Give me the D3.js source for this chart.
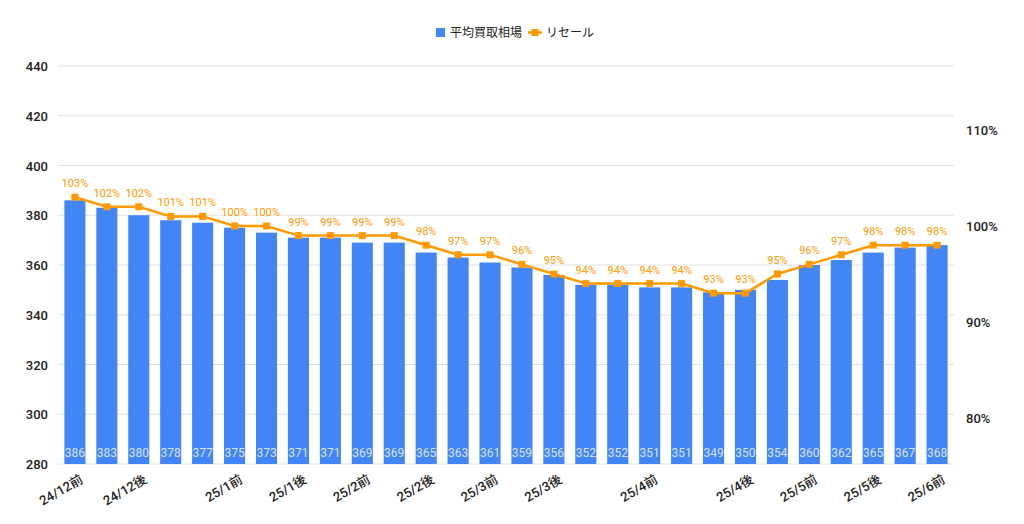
<!DOCTYPE html>
<html>
<head>
<meta charset="utf-8">
<script src="https://d3js.org/d3.v7.min.js"></script>
<style>
  body { margin: 0; background: #fff; font-family: Roboto, "Noto Sans CJK JP", sans-serif; }
  .grid line { stroke: #e0e0e0; }
  .axis text { font-size: 13px; fill: #222; font-weight: 500; }
</style>
</head>
<body>
<script>
const categories = ["24/12前","","24/12後","","","25/1前","","25/1後","","25/2前","","25/2後","","25/3前","","25/3後","","","25/4前","","","25/4後","","25/5前","","25/5後","","25/6前"];
const buyPrice = [386,383,380,378,377,375,373,371,371,369,369,365,363,361,359,356,352,352,351,351,349,350,354,360,362,365,367,368];
const resale = [103,102,102,101,101,100,100,99,99,99,99,98,97,97,96,95,94,94,94,94,93,93,95,96,97,98,98,98];
const leftTicks = [280,300,320,340,360,380,400,420,440];
const rightTicks = [80,90,100,110];

const W = 1024, H = 524;
const m = {top: 66, bottom: 60, left: 58, right: 70};
const svg = d3.select("body").append("svg").attr("width", W).attr("height", H);

const idx = d3.range(categories.length);
const x = d3.scaleBand().domain(idx).range([m.left, W - m.right]).paddingInner(0.34).paddingOuter(0.2);
const y = d3.scaleLinear().domain([280, 440]).range([H - m.bottom, m.top]);
const y2 = d3.scaleLinear().domain([75.2, 116.67]).range([H - m.bottom, m.top]);

svg.append("g").attr("class", "grid")
  .selectAll("line").data(leftTicks).join("line")
  .attr("x1", m.left).attr("x2", W - m.right)
  .attr("y1", d => y(d)).attr("y2", d => y(d));

svg.append("g").attr("class", "axis")
  .selectAll("text").data(leftTicks).join("text")
  .attr("x", 48).attr("y", d => y(d) + 5).attr("text-anchor", "end").text(d => d);

svg.append("g").attr("class", "axis")
  .selectAll("text").data(rightTicks).join("text")
  .attr("x", 966).attr("y", d => y2(d) + 5).text(d => d + "%");

svg.append("g").selectAll("rect").data(buyPrice).join("rect")
  .attr("x", (d, i) => x(i)).attr("width", x.bandwidth())
  .attr("y", d => y(d)).attr("height", d => y(280) - y(d))
  .attr("fill", "#4285f4");

svg.append("g").selectAll("text").data(buyPrice).join("text")
  .attr("x", (d, i) => x(i) + x.bandwidth() / 2).attr("y", y(280) - 7)
  .attr("text-anchor", "middle").attr("font-size", 12).attr("fill", "#d6e4fc")
  .text(d => d);

const line = d3.line().x((d, i) => x(i) + x.bandwidth() / 2).y(d => y2(d));
svg.append("path").datum(resale).attr("d", line)
  .attr("fill", "none").attr("stroke", "#ff9900").attr("stroke-width", 2.5);

svg.append("g").selectAll("rect").data(resale).join("rect")
  .attr("x", (d, i) => x(i) + x.bandwidth() / 2 - 3.5).attr("y", d => y2(d) - 3.5)
  .attr("width", 7).attr("height", 7).attr("fill", "#ff9900");

svg.append("g").selectAll("text").data(resale).join("text")
  .attr("x", (d, i) => x(i) + x.bandwidth() / 2).attr("y", d => y2(d) - 10)
  .attr("text-anchor", "middle").attr("font-size", 11).attr("fill", "#ff9900")
  .text(d => d + "%");

svg.append("g").attr("class", "axis")
  .selectAll("text").data(categories).join("text")
  .attr("transform", (d, i) => `translate(${x(i) + x.bandwidth() / 2 + 9},${y(280) + 18}) rotate(-30)`)
  .attr("text-anchor", "end").text(d => d);

// legend
const lg = svg.append("g").attr("font-size", 12).attr("fill", "#222");
lg.append("rect").attr("x", 436).attr("y", 28).attr("width", 9).attr("height", 9).attr("fill", "#4285f4");
lg.append("text").attr("x", 450).attr("y", 37).text("平均買取相場");
lg.append("line").attr("x1", 528).attr("x2", 542).attr("y1", 32.5).attr("y2", 32.5).attr("stroke", "#ff9900").attr("stroke-width", 2.5);
lg.append("rect").attr("x", 531.5).attr("y", 29).attr("width", 7).attr("height", 7).attr("fill", "#ff9900");
lg.append("text").attr("x", 546).attr("y", 37).text("リセール");
</script>
</body>
</html>
